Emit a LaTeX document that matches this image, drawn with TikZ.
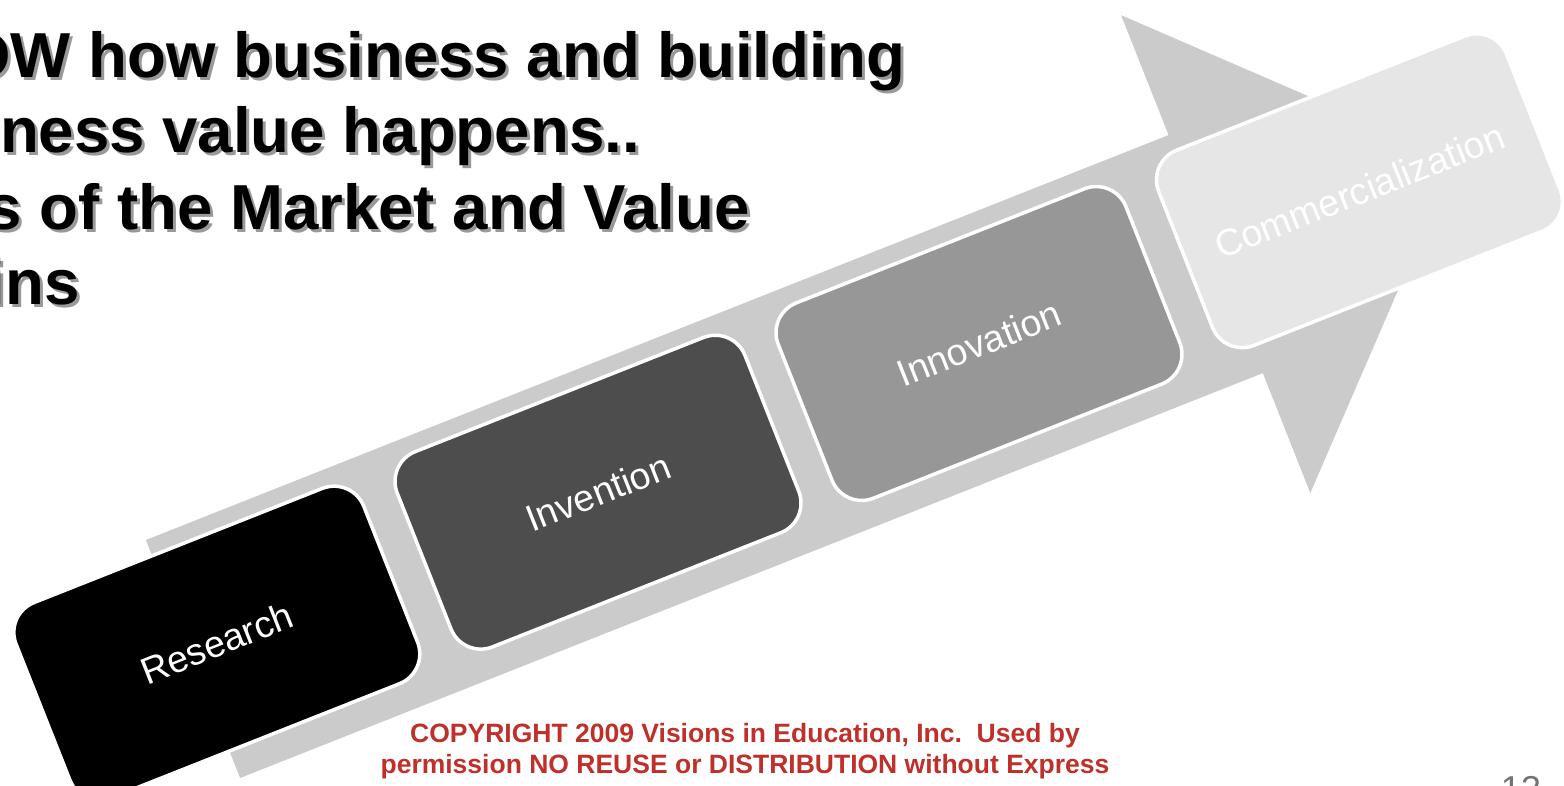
\documentclass[tikz,border=0pt]{standalone}
\usepackage{fontspec}
\setmainfont{Liberation Sans}
\usetikzlibrary{positioning}

\definecolor{bandgray}{HTML}{CBCBCB}
\definecolor{stagedark}{HTML}{4D4D4D}
\definecolor{stagemid}{HTML}{979797}
\definecolor{stagelight}{HTML}{E6E6E6}
\definecolor{copyred}{HTML}{C0302A}

\begin{document}
\begin{tikzpicture}[x=1pt, y=1pt,
  stage/.style={rectangle, rounded corners=32pt, draw=white, line width=3.5pt,
                minimum width=374pt, minimum height=210pt, text=white,
                font=\fontsize{37.5}{45}\selectfont, transform shape},
  heading/.style={font=\fontsize{63.6}{75}\selectfont\bfseries,
                  inner sep=0pt, anchor=base east},
  headshadow/.style={heading, text=black!40},
  notice/.style={font=\fontsize{26.5}{31}\selectfont\bfseries, text=copyred,
                 inner sep=0pt, anchor=base}
]
\useasboundingbox (0,0) rectangle (1564,-786);
\clip (0,0) rectangle (1564,-786);

% the big arrow and the four stages along it
\begin{scope}[shift={(193,-659)}, rotate=21.6]
  \fill[bandgray] (0,-128) -- (1100,-128) -- (1100,-257) -- (1357,0)
    -- (1100,257) -- (1100,128) -- (0,128) -- cycle;
  \node[stage, fill=black] (research) at (28,6) {Research};
  \node[stage, fill=stagedark] (invention) at (438,6) {Invention};
  \node[stage, fill=stagemid] (innovation) at (847,4) {Innovation};
  \node[stage, fill=stagelight] (commerce) at (1257,6) {Commercialization};
\end{scope}

% heading lines, cut at the left edge
\node[headshadow] at (908,-81) {OW how business and building};
\node[heading] (line1) at (905,-78) {OW how business and building};
\node[headshadow] at (643,-156) {ness value happens..};
\node[heading] (line2) at (640,-153) {ness value happens..};
\node[headshadow] at (753,-233) {s of the Market and Value};
\node[heading] (line3) at (750,-230) {s of the Market and Value};
\node[headshadow] at (83,-308) {ins};
\node[heading] (line4) at (80,-305) {ins};

% notice at the bottom
\node[notice] (copy1) at (745,-742)
  {COPYRIGHT 2009 Visions in Education, Inc.\ \ Used by};
\node[notice] (copy2) at (745,-773)
  {permission NO REUSE or DISTRIBUTION without Express};

\node[font=\fontsize{36}{40}\selectfont, text=black!55, inner sep=0pt,
      anchor=north] (pagenum) at (1521,-776) {13};
\end{tikzpicture}
\end{document}
